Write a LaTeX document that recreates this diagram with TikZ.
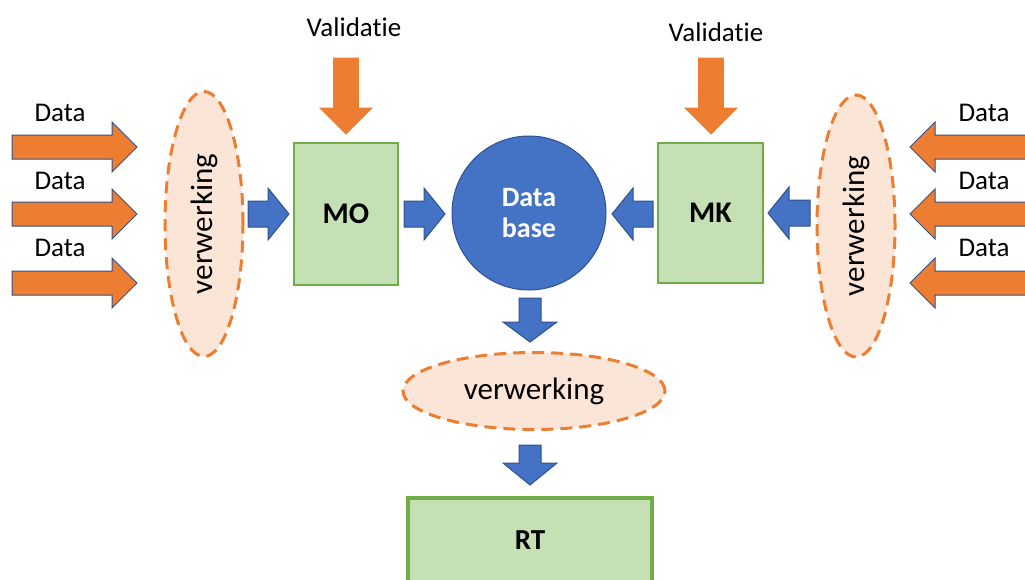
\documentclass[tikz,border=0pt]{standalone}
\usepackage{fontspec}
\setmainfont{Carlito}[Ligatures={NoCommon,NoContextual}]
\usetikzlibrary{shapes.geometric}
\definecolor{orangeA}{HTML}{ED7D31}
\definecolor{peach}{HTML}{FBE5D6}
\definecolor{blueA}{HTML}{4472C4}
\definecolor{blueEdge}{HTML}{2F528F}
\definecolor{greenFill}{HTML}{C5E0B4}
\definecolor{greenEdge}{HTML}{70AD47}

% horizontal block arrow: style, tail x, tip x, y, shaft half, head half, head base x
\newcommand\harrow[7]{%
  \path[#1] (#2,#4-#5) -- (#7,#4-#5) -- (#7,#4-#6) -- (#3,#4) -- (#7,#4+#6)
    -- (#7,#4+#5) -- (#2,#4+#5) -- cycle;}
% vertical block arrow: style, x, tail y, tip y, shaft half, head half, head base y
\newcommand\varrow[7]{%
  \path[#1] (#2-#5,#3) -- (#2-#5,#7) -- (#2-#6,#7) -- (#2,#4) -- (#2+#6,#7)
    -- (#2+#5,#7) -- (#2+#5,#3) -- cycle;}

\tikzset{
  txt/.style={font=\fontsize{27}{32}\selectfont, text=black},
  dataarrow/.style={fill=orangeA, draw=blueEdge, line width=1pt, line join=miter},
  valarrow/.style={fill=orangeA, draw=orangeA, line width=0.8pt},
  flowarrow/.style={fill=blueA, draw=blueEdge, line width=1pt},
  procell/.style={ellipse, fill=peach, draw=orangeA, line width=3pt,
    dash pattern=on 12pt off 7pt, inner sep=0pt,
    font=\fontsize{31}{36}\selectfont},
  store/.style={rectangle, fill=greenFill, draw=greenEdge, line width=1.5pt,
    inner sep=0pt, font=\bfseries\fontsize{30}{34}\selectfont},
}

\begin{document}
\begin{tikzpicture}[x=1pt, y=-1pt]
\useasboundingbox (0,0) rectangle (1025,579);

% processing ellipses
\node[procell, minimum width=78pt, minimum height=265pt] (lv) at (204,224)
  {\rotatebox{90}{verwerking}};
\node[procell, minimum width=78pt, minimum height=262pt] (rv) at (856,226)
  {\rotatebox{90}{verwerking}};
\node[procell, minimum width=262pt, minimum height=77pt] (bv) at (534,391)
  {verwerking};

% stores
\node[store, minimum width=104pt, minimum height=142pt] (mo) at (346,214) {MO};
\node[store, minimum width=105pt, minimum height=140pt] (mk) at (710.5,213) {MK};
\node[circle, fill=blueA, draw=blueEdge, line width=1pt, minimum size=154pt,
  inner sep=0pt, align=center, text=white,
  font=\bfseries\fontsize{28}{31}\selectfont] (db) at (529,213) {Data\\base};
\draw[fill=greenFill, draw=greenEdge, line width=4pt] (408,498) rectangle (652,625);
\node[font=\bfseries\fontsize{29}{32}\selectfont] (rt) at (530,540) {RT};

% incoming data, left
\foreach \yy/\ly in {147/113, 214/181, 283/248}{
  \harrow{dataarrow}{12}{137}{\yy}{12}{25}{112}
  \node[txt] at (60,\ly) {Data};
}
% incoming data, right
\foreach \yy/\ly in {147/113, 214/181, 283/248}{
  \harrow{dataarrow}{1030}{910}{\yy}{12}{25}{935}
  \node[txt] at (984,\ly) {Data};
}

% validation
\node[txt] (vl) at (354,27) {Validat\kern0pt ie};
\node[txt] (vr) at (716,32) {Validat\kern0pt ie};
\varrow{valarrow}{346}{58}{134}{12.5}{26}{108}
\varrow{valarrow}{711}{58}{134}{12.5}{26}{108}

% flow between blocks
\harrow{flowarrow}{248}{289}{214}{13}{26}{268}
\harrow{flowarrow}{404}{445}{214}{13}{26}{424}
\harrow{flowarrow}{653}{612}{214}{13}{26}{633}
\harrow{flowarrow}{810}{768}{213}{13}{26}{789}
\varrow{flowarrow}{530}{298}{342}{11}{27}{322}
\varrow{flowarrow}{530}{445}{485}{11}{27}{463}
\end{tikzpicture}
\end{document}
